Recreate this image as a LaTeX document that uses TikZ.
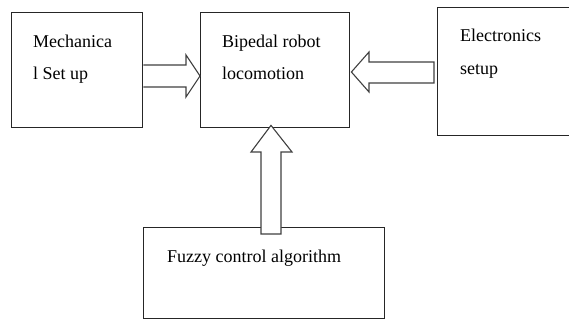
\documentclass[tikz,border=0pt]{standalone}
\usepackage{fontspec}
\setmainfont{Liberation Serif}
\usetikzlibrary{calc}
\tikzset{
  boxnode/.style={draw=black!85, line width=1.4pt, inner sep=0pt, anchor=north west},
  txt/.style={anchor=base west, inner sep=0pt, font=\fontsize{18}{20}\selectfont, text=black},
  blockarrow/.style={draw=black!75, line width=1.1pt, fill=white, line join=miter},
}
\begin{document}
\begin{tikzpicture}[x=1pt,y=-1pt]
\useasboundingbox (0,0) rectangle (569,320);
\clip (0,0) rectangle (569,320);
% boxes
\node[boxnode, minimum width=131pt, minimum height=115pt] (mech) at (11,12) {};
\node[boxnode, minimum width=149pt, minimum height=115pt] (biped) at (200,12) {};
\node[boxnode, minimum width=140pt, minimum height=128pt] (elec) at (437,7) {};
\node[boxnode, minimum width=241pt, minimum height=91pt] (fuzzy) at (143,227) {};
% texts
\node[txt] (t1) at (33,48) {Mechanica};
\node[txt] (t2) at (33,80) {l Set up};
\node[txt] (t3) at (222,48) {Bipedal robot};
\node[txt] (t4) at (222,80) {locomotion};
\node[txt] (t5) at (460,42) {Electronics};
\node[txt] (t6) at (460,75) {setup};
\node[txt] (t7) at (167,262) {Fuzzy control algorithm};
% right block arrow mech -> biped
\draw[blockarrow] let \p1=(mech.east), \p2=(biped.west) in
  (\x1,65) -- (186,65) -- (186,55) -- (\x2,76) -- (186,97) -- (186,87) -- (\x1,87);
% left block arrow elec -> biped
\draw[blockarrow] let \p1=(elec.west), \p2=(biped.east) in
  (\x1-3,62) -- (369,62) -- (369,52) -- (\x2+1,72) -- (369,92) -- (369,83) -- (\x1-3,83) -- cycle;
% up block arrow fuzzy -> biped
\draw[blockarrow] let \p1=(fuzzy.north), \p2=(biped.south) in
  (261,\y1-7) -- (261,152) -- (251,152) -- (271,\y2+3) -- (292,152) -- (281,152) -- (281,\y1-7) -- cycle;
\end{tikzpicture}
\end{document}
